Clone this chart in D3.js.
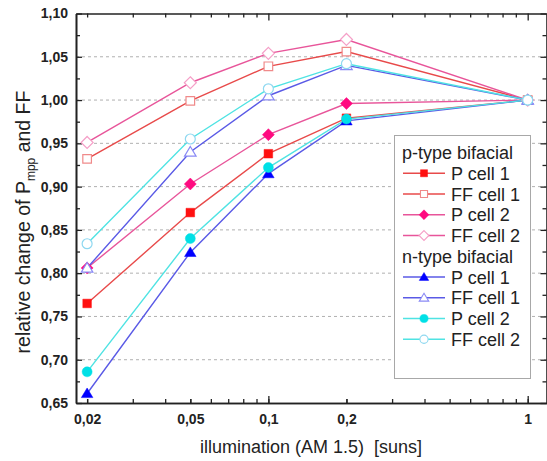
<!DOCTYPE html>
<html><head><meta charset="utf-8">
<script src="https://cdn.jsdelivr.net/npm/d3@7"></script>
<style>body{margin:0;background:#fff}svg{display:block;font-family:Arial,"Liberation Sans",sans-serif}</style>
</head><body><svg id="c" width="547" height="461"></svg>
<script>
const illumination = [0.02, 0.05, 0.1, 0.2, 1];
const xTickLabels = [0.02, 0.05, 0.1, 0.2, 1];
const yTicks = [0.65, 0.70, 0.75, 0.80, 0.85, 0.90, 0.95, 1.00, 1.05, 1.10];
const pP1 = [0.765, 0.870, 0.938, 0.979, 1.000];
const pFF1 = [0.932, 0.999, 1.039, 1.056, 1.000];
const pP2 = [0.806, 0.903, 0.960, 0.996, 1.000];
const pFF2 = [0.951, 1.020, 1.054, 1.070, 1.000];
const nP1 = [0.661, 0.824, 0.915, 0.976, 1.000];
const nFF1 = [0.806, 0.940, 1.005, 1.040, 1.000];
const nP2 = [0.686, 0.840, 0.922, 0.978, 1.000];
const nFF2 = [0.834, 0.955, 1.013, 1.042, 1.000];

// drawing order: p-type first, n-type on top
const series = [
  {name:"P cell 1", v:pP1, sym:"square", fill:true, line:"#e84a4a", mk:"#ff1010"},
  {name:"FF cell 1", v:pFF1, sym:"square", fill:false, line:"#e84a4a", mk:"#f08a8a"},
  {name:"P cell 2", v:pP2, sym:"diamond", fill:true, line:"#e8559a", mk:"#ff0a80"},
  {name:"FF cell 2", v:pFF2, sym:"diamond", fill:false, line:"#e8559a", mk:"#f5a0c8"},
  {name:"P cell 1", v:nP1, sym:"triangle", fill:true, line:"#5a5ae6", mk:"#0000ff"},
  {name:"FF cell 1", v:nFF1, sym:"triangle", fill:false, line:"#5a5ae6", mk:"#8a8af5"},
  {name:"P cell 2", v:nP2, sym:"circle", fill:true, line:"#4fe3e3", mk:"#00e0e6"},
  {name:"FF cell 2", v:nFF2, sym:"circle", fill:false, line:"#4fe3e3", mk:"#8fd8f0"}
];
const legendOrder = [
  {header:"p-type bifacial"}, series[0], series[1], series[2], series[3],
  {header:"n-type bifacial"}, series[4], series[5], series[6], series[7]
];

const svg = d3.select("#c");
const L=76, R=547, T=13.5, B=403;
const x = d3.scaleLog().domain([0.01812, 1.187]).range([L, R]);
const y = d3.scaleLinear().domain([0.65, 1.10]).range([B, T]);
const fmt = v => d3.format(".2f")(v).replace(".", ",");
const fmtX = v => String(v).replace(".", ",");

// grid
svg.append("g").selectAll("line").data(yTicks.filter(v=>v>0.66&&v<1.09)).join("line")
  .attr("x1", L).attr("x2", R).attr("y1", d=>y(d)).attr("y2", d=>y(d))
  .attr("stroke", "#b0b0b0").attr("stroke-width", 1).attr("stroke-dasharray", "3,3");

// axes
const minorX = [];
for (const dec of [0.01, 0.1]) for (let k=2;k<=9;k++){ const v=+(k*dec).toFixed(3); if (v>=0.02 && v<1) minorX.push(v); }
const majorX = [0.1, 1];
const yMinor = d3.range(0, 9).map(i => +(0.675 + i*0.05).toFixed(3));

function tickStyle(g){ g.select(".domain").attr("stroke","#222").attr("stroke-width",1.6); g.selectAll(".tick line").attr("stroke","#222").attr("stroke-width",1.3); }

const xb = svg.append("g").attr("transform",`translate(0,${B})`)
  .call(d3.axisBottom(x).tickValues(xTickLabels).tickFormat(fmtX).tickSizeInner(-4).tickSizeOuter(0).tickPadding(11));
xb.call(tickStyle);
xb.selectAll("text").attr("font-size",14).attr("font-weight","bold").attr("fill","#222");
const xbm = svg.append("g").attr("transform",`translate(0,${B})`)
  .call(d3.axisBottom(x).tickValues(minorX.concat(majorX)).tickFormat("").tickSizeInner(-4).tickSizeOuter(0));
xbm.call(tickStyle);
xbm.selectAll(".tick line").filter(d=>majorX.includes(d)).attr("y2",-7);

const xt = svg.append("g").attr("transform",`translate(0,${T})`)
  .call(d3.axisTop(x).tickValues(minorX.concat(majorX)).tickFormat("").tickSizeInner(-4).tickSizeOuter(0));
xt.call(tickStyle);
xt.selectAll(".tick line").filter(d=>majorX.includes(d)).attr("y2",7);

const yl = svg.append("g").attr("transform",`translate(${L},0)`)
  .call(d3.axisLeft(y).tickValues(yTicks).tickFormat(fmt).tickSizeInner(-6).tickSizeOuter(0).tickPadding(8));
yl.call(tickStyle);
yl.selectAll("text").attr("font-size",14).attr("font-weight","bold").attr("fill","#222");
svg.append("g").attr("transform",`translate(${L},0)`)
  .call(d3.axisLeft(y).tickValues(yMinor).tickFormat("").tickSizeInner(-4).tickSizeOuter(0)).call(tickStyle);
const yr = svg.append("g").attr("transform",`translate(${R-0.5},0)`)
  .call(d3.axisRight(y).tickValues(yTicks.concat(yMinor)).tickFormat("").tickSizeInner(-4).tickSizeOuter(0));
yr.call(tickStyle);
yr.selectAll(".tick line").filter(d=>yTicks.includes(d)).attr("x2",-6);

// symbols
function symPath(sym, k){
  if (sym === "diamond") { const r = 6*k; return `M0,${-r}L${r},0L0,${r}L${-r},0Z`; }
  if (sym === "square") { const r = 4.3*k; return `M${-r},${-r}H${r}V${r}H${-r}Z`; }
  if (sym === "triangle") { const r = 5.5*k; return `M0,${-r}L${r*1.05},${r*0.75}L${-r*1.05},${r*0.75}Z`; }
  return d3.symbol().type(d3.symbolCircle).size(78*k*k)();
}
const line = d3.line().x((d,i)=>x(illumination[i])).y(d=>y(d));
const plot = svg.append("g");
series.forEach(s=>{
  plot.append("path").attr("d", line(s.v)).attr("fill","none").attr("stroke",s.line).attr("stroke-width",1.4);
});
series.forEach(s=>{
  plot.append("g").selectAll("path").data(s.v).join("path")
    .attr("transform",(d,i)=>`translate(${x(illumination[i])},${y(d)})`)
    .attr("d", symPath(s.sym, 1))
    .attr("fill", s.fill ? s.mk : "#fff").attr("stroke", s.mk).attr("stroke-width", s.fill?0.5:1.2);
});

// legend
const lg = svg.append("g");
lg.append("rect").attr("x",394.5).attr("y",135.5).attr("width",136).attr("height",243)
  .attr("fill","#fff").attr("stroke","#a8a8a8").attr("stroke-width",1);
legendOrder.forEach((e,i)=>{
  const yy = 152.5 + i*20.75;
  if (e.header){
    lg.append("text").attr("x",402).attr("y",yy+6.5).attr("font-size",18).attr("fill","#222").text(e.header);
  } else {
    lg.append("line").attr("x1",403).attr("x2",445).attr("y1",yy).attr("y2",yy).attr("stroke",e.line).attr("stroke-width",1.4);
    lg.append("path").attr("transform",`translate(424,${yy})`).attr("d",symPath(e.sym, 0.82))
      .attr("fill", e.fill? e.mk : "#fff").attr("stroke", e.mk).attr("stroke-width", e.fill?0.5:1.1);
    lg.append("text").attr("x",451).attr("y",yy+6.5).attr("font-size",18).attr("fill","#222").text(e.name);
  }
});

// axis titles
svg.append("text").attr("x",311).attr("y",453).attr("text-anchor","middle").attr("font-size",18).attr("fill","#222")
  .style("white-space","pre").text("illumination (AM 1.5)  [suns]");
const yt = svg.append("text").attr("transform","translate(30,222) rotate(-90)").attr("text-anchor","middle")
  .attr("font-size",19.5).attr("fill","#222");
yt.append("tspan").text("relative change of P");
yt.append("tspan").attr("font-size",12).attr("dy",5).text("mpp");
yt.append("tspan").attr("dy",-5).text(" and FF");
</script></body></html>
